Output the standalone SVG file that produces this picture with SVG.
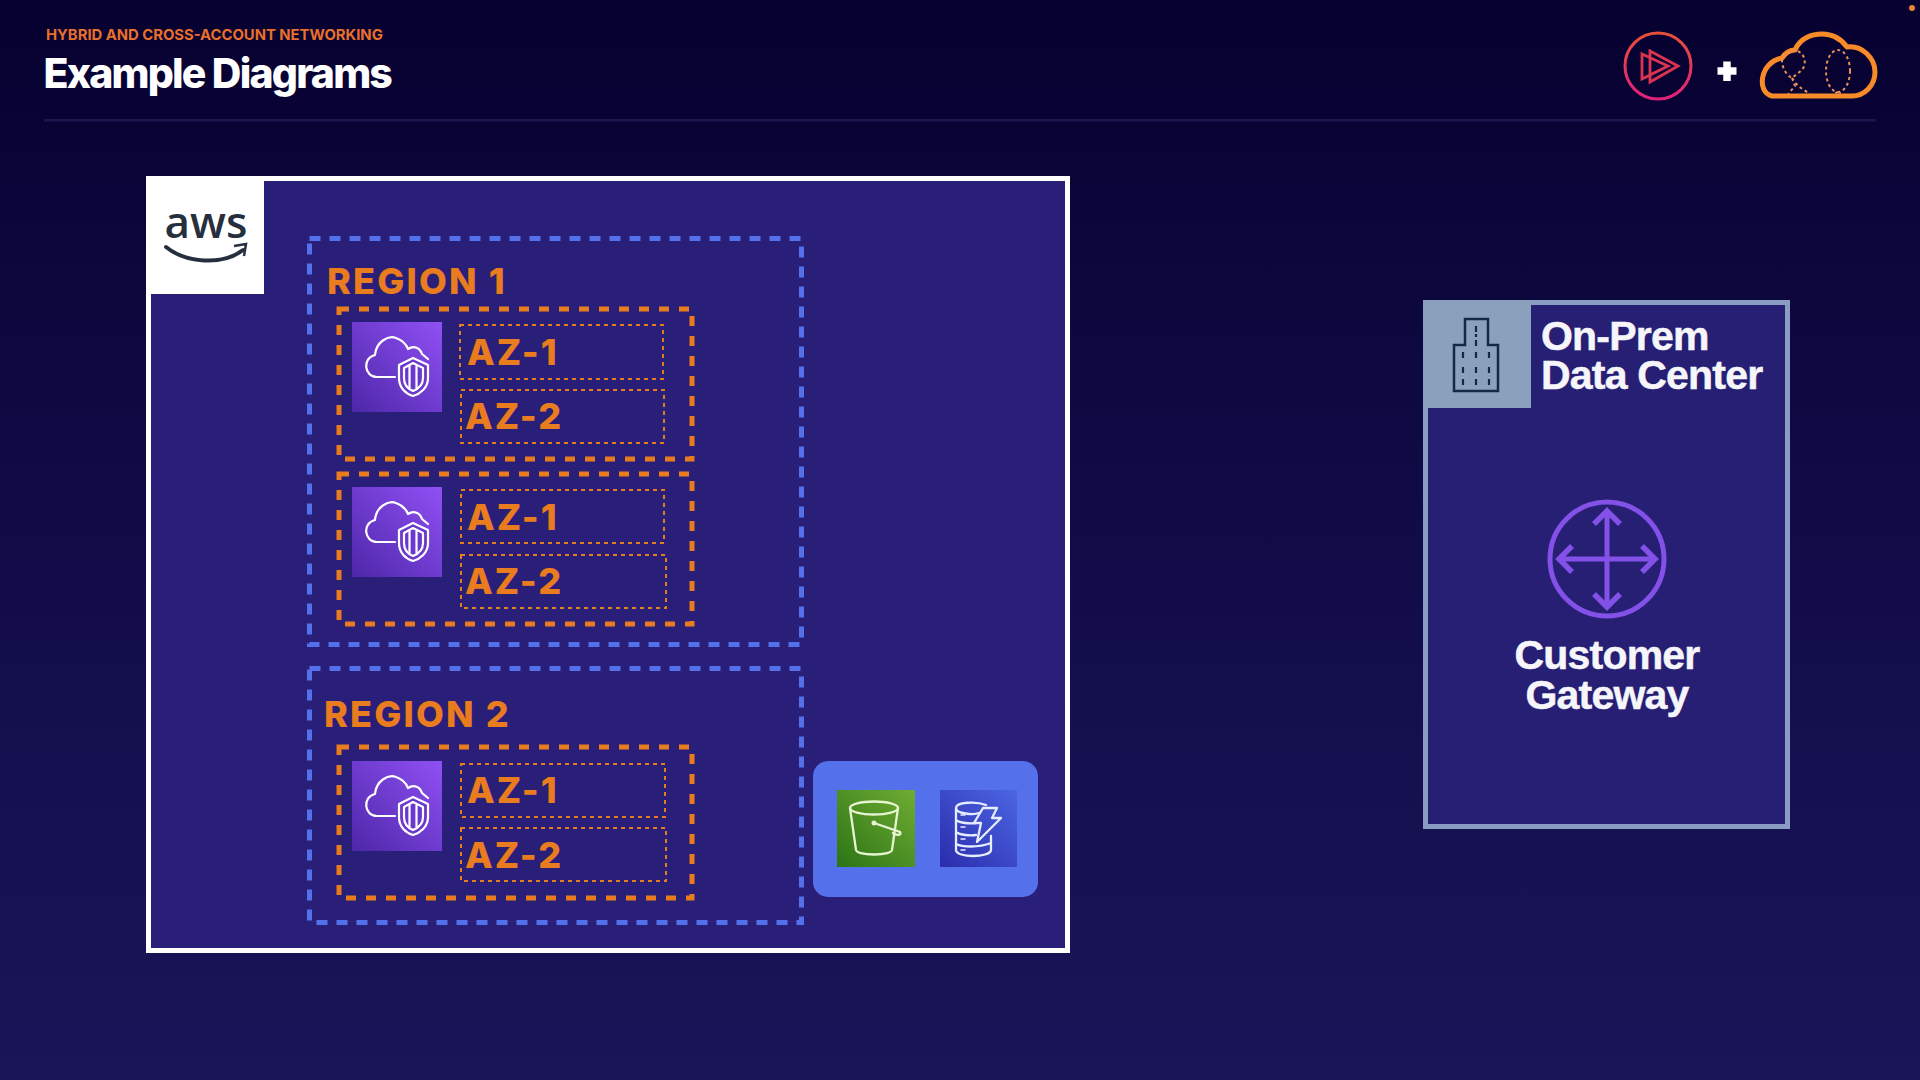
<svg xmlns="http://www.w3.org/2000/svg" xmlns:xlink="http://www.w3.org/1999/xlink" width="1920" height="1080" viewBox="0 0 1920 1080">
<defs>
<linearGradient id="bg" x1="0" y1="0" x2="0" y2="1"><stop offset="0" stop-color="#070130"/><stop offset="0.5" stop-color="#110c48"/><stop offset="1" stop-color="#1a1558"/></linearGradient>
<linearGradient id="ps" x1="0" y1="0" x2="0" y2="1"><stop offset="0" stop-color="#e8503a"/><stop offset="1" stop-color="#e0207a"/></linearGradient>
<linearGradient id="pur" x1="0" y1="1" x2="1" y2="0"><stop offset="0" stop-color="#4d27a8"/><stop offset="1" stop-color="#9050f5"/></linearGradient>
<linearGradient id="grn" x1="0" y1="1" x2="1" y2="0"><stop offset="0" stop-color="#2b7416"/><stop offset="1" stop-color="#70ac33"/></linearGradient>
<linearGradient id="blu" x1="0" y1="1" x2="1" y2="0"><stop offset="0" stop-color="#2a2cab"/><stop offset="1" stop-color="#4c66e4"/></linearGradient>
<g id="vpn">
<rect width="90" height="90" fill="url(#pur)"/>
<g fill="none" stroke="#fff" stroke-width="2.200" stroke-linejoin="round" stroke-linecap="round">
<path d="M43 55H25C12 55 10 36 23 33C24 20 36 13 44 16C50 18 54 22 56 27C62 23 68 26 70 32L76 37"/>
<path d="M61 36L76 43V56C76 66 68 72 61 74C54 72 47 66 47 56V43Z" fill="#6a38cc"/>
<path d="M61 41L71 46V56C71 63 66 67 61 69C56 67 52 63 52 56V46Z"/>
<path d="M57.500 44V66M64.500 44V66"/>
</g>
</g>
</defs>
<style>
.region{fill:none;stroke:#5470ea;stroke-width:5;stroke-dasharray:11 9}
.vpc{fill:none;stroke:#e97c1e;stroke-width:5;stroke-dasharray:10 10}
.az{fill:none;stroke:#e97c1e;stroke-width:2;stroke-dasharray:4 4}
.lbl{font-family:"Inter","Liberation Sans",sans-serif;font-weight:800;font-size:36px;fill:#e97c1e}
.rg{letter-spacing:2.200px}
.az-t{letter-spacing:2px}
.wt{font-family:"Liberation Sans",Arial,sans-serif;font-weight:700;font-size:41px;fill:#f5f5fa;letter-spacing:-0.800px;stroke:#f5f5fa;stroke-width:0.500px}
</style>
<rect width="1920" height="1080" fill="url(#bg)"/>
<g id="header">
<text x="46" y="39.500" font-family="Inter,'Liberation Sans',sans-serif" font-weight="700" font-size="14.800" fill="#e8702a">HYBRID AND CROSS-ACCOUNT NETWORKING</text>
<text x="43.500" y="88" font-family="Inter,'Liberation Sans',sans-serif" font-weight="800" font-size="41" letter-spacing="-1.800" fill="#fff">Example Diagrams</text>
<rect x="44" y="119" width="1832" height="2.500" fill="#1d1650"/>
</g>
<g id="logos">
<circle cx="1658" cy="66" r="33" fill="none" stroke="url(#ps)" stroke-width="3"/>
<path d="M1642 54L1668 66L1642 79Z M1650 51L1678 66L1650 82Z" fill="none" stroke="#dc3450" stroke-width="2.800"/>
<path d="M1727 61.500V81M1717.500 71H1736.500" stroke="#fff" stroke-width="7.500" fill="none"/>
<path d="M1772 96C1756 92 1760 62 1782 58C1786 52 1791 50 1795 50C1800 38 1812 34 1822 34C1834 34 1842 40 1847 47C1862 45 1875 58 1875 72C1875 86 1864 96 1852 96Z" fill="none" stroke="#f78b2a" stroke-width="5" stroke-linejoin="round"/>
<g fill="none" stroke="#e8905a" stroke-width="2" stroke-dasharray="3 3">
<path d="M1792 50C1804 50 1808 62 1802 70L1792 78C1784 74 1780 62 1783 56Z"/>
<ellipse cx="1838" cy="71" rx="12" ry="21"/>
<path d="M1792 78L1798 86L1810 94M1792 78L1795 86L1788 94M1838 92L1833 94M1838 92L1843 94"/>
</g>
<circle cx="1912" cy="8" r="3" fill="#e8823a"/>
</g>
<g id="connectors"/>
<g id="aws-account">
<rect x="148.500" y="178.500" width="919" height="772" fill="#291f78" stroke="#fff" stroke-width="5"/>
<rect x="146" y="176" width="118" height="118" fill="#fff"/>
<text x="206" y="237.500" text-anchor="middle" font-family="'Open Sans','Noto Sans',sans-serif" font-weight="600" font-size="44" fill="#252f3e">aws</text>
<path d="M166 247C186 263 222 266 243 250" fill="none" stroke="#252f3e" stroke-width="4" stroke-linecap="round"/>
<path d="M234 246L246 244L244 256" fill="none" stroke="#252f3e" stroke-width="2.500"/>
</g>
<g id="region-1">
<rect class="region" x="309.500" y="238.500" width="492" height="406"/>
<text class="lbl rg" x="327" y="294">REGION 1</text>
</g>
<g id="region-1-group-1">
<rect class="vpc" x="339" y="309" width="353" height="150"/>
<use href="#vpn" x="352" y="322"/>
<rect class="az" x="460" y="325" width="203" height="54"/>
<text class="lbl az-t" x="467" y="365">AZ-1</text>
<rect class="az" x="461" y="390" width="203" height="53"/>
<text class="lbl az-t" x="465" y="429">AZ-2</text>
</g>
<g id="region-1-group-2">
<rect class="vpc" x="339" y="474" width="353" height="150"/>
<use href="#vpn" x="352" y="487"/>
<rect class="az" x="461" y="490" width="203" height="53"/>
<text class="lbl az-t" x="467" y="530">AZ-1</text>
<rect class="az" x="461" y="555" width="205" height="53"/>
<text class="lbl az-t" x="465" y="594">AZ-2</text>
</g>
<g id="region-2">
<rect class="region" x="309.500" y="668.500" width="492" height="254"/>
<text class="lbl rg" x="324" y="727">REGION 2</text>
</g>
<g id="region-2-group-1">
<rect class="vpc" x="339" y="747" width="353" height="151"/>
<use href="#vpn" x="352" y="761"/>
<rect class="az" x="461" y="764" width="204" height="53"/>
<text class="lbl az-t" x="467" y="803">AZ-1</text>
<rect class="az" x="461" y="828" width="205" height="53"/>
<text class="lbl az-t" x="465" y="868">AZ-2</text>
</g>
<g id="services">
<rect x="813" y="761" width="225" height="136" rx="15" fill="#5470ea"/>
<g id="s3" transform="translate(837 790)">
<rect width="78" height="77" fill="url(#grn)"/>
<g fill="none" stroke="#e6f5d0" stroke-width="2.300" stroke-linecap="round">
<ellipse cx="37" cy="18" rx="24" ry="6.500"/>
<path d="M13 18L19 60C21 66 53 66 55 60L61 18"/>
<path d="M37 33L63 42C65 45 60 46 56 43"/>
</g>
<circle cx="37" cy="33" r="2.500" fill="#e6f5d0"/>
</g>
<g id="dynamodb" transform="translate(940 790)">
<rect width="77" height="77" fill="url(#blu)"/>
<g fill="none" stroke="#e6ecff" stroke-width="2.300" stroke-linecap="round" stroke-linejoin="round">
<path d="M46 15C36 11 16 12 16 18V60C16 68 50 68 51 60V46M16 18C16 24 34 25 39 23M16 30C20 33 30 34 36 33M16 42C20 45 30 46 36 45M16 54C22 57 38 58 51 53"/>
<path d="M21 25H25M21 37H25M21 49H25M21 60H25" stroke-width="1.500"/>
<path d="M43 18H57L52 28H61L37 52L41 33H34Z"/>
</g>
</g>
</g>
<g id="on-prem">
<rect x="1425.500" y="302.500" width="362" height="524" fill="#261f74" stroke="#8a9bc4" stroke-width="5"/>
<rect x="1423" y="300" width="108" height="108" fill="#8aa0bc"/>
<path d="M1465 345V319H1488V345H1498V391H1454V345Z" fill="none" stroke="#14284a" stroke-width="2.500"/>
<path d="M1476 326V337M1476 340V347M1476 352V360M1476 367V375M1476 379V385M1463 352V360M1463 367V375M1463 379V385M1489 352V360M1489 367V375M1489 379V385" stroke="#14284a" stroke-width="2.200" fill="none" stroke-dasharray="6 2"/>
<text class="wt" x="1541" y="350">On-Prem</text>
<text class="wt" x="1541" y="389">Data Center</text>
</g>
<g id="customer-gateway">
<circle cx="1607" cy="559" r="57" fill="none" stroke="#8350e8" stroke-width="5"/>
<path d="M1607 512V606M1560 559H1654" fill="none" stroke="#8350e8" stroke-width="5"/>
<path d="M1594 524L1607 511L1620 524M1594 594L1607 607L1620 594M1572 546L1559 559L1572 572M1642 546L1655 559L1642 572" fill="none" stroke="#8350e8" stroke-width="5.500"/>
<text class="wt" x="1607" y="669" text-anchor="middle">Customer</text>
<text class="wt" x="1607" y="709" text-anchor="middle">Gateway</text>
</g>
</svg>
